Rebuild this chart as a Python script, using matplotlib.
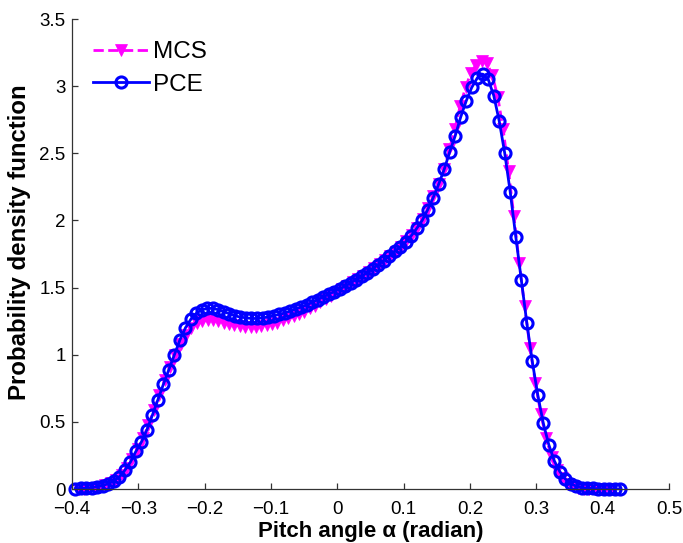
import numpy as np
import matplotlib
matplotlib.use('Agg')
import matplotlib.pyplot as plt
from matplotlib.ticker import FuncFormatter

# PCE: 100 samples on a uniform grid
pce_x = np.linspace(-0.395, 0.4267, 100)
pce_pdf = [
    0.003, 0.005, 0.007, 0.011, 0.017, 0.026, 0.040, 0.060, 0.090, 0.140,
    0.200, 0.280, 0.350, 0.440, 0.550, 0.665, 0.780, 0.890, 1.000, 1.110,
    1.200, 1.265, 1.310, 1.335, 1.345, 1.345, 1.335, 1.320, 1.305, 1.290,
    1.280, 1.275, 1.270, 1.270, 1.275, 1.280, 1.290, 1.300, 1.310, 1.325,
    1.340, 1.355, 1.370, 1.390, 1.410, 1.430, 1.450, 1.470, 1.490, 1.510,
    1.535, 1.560, 1.585, 1.610, 1.640, 1.670, 1.700, 1.735, 1.770, 1.800,
    1.840, 1.885, 1.940, 2.000, 2.080, 2.170, 2.270, 2.380, 2.510, 2.630,
    2.770, 2.890, 2.990, 3.060, 3.090, 3.050, 2.930, 2.740, 2.500, 2.210,
    1.880, 1.560, 1.240, 0.950, 0.700, 0.490, 0.330, 0.210, 0.130, 0.075,
    0.040, 0.020, 0.010, 0.006, 0.004, 0.003, 0.002, 0.001, 0.001, 0.001,
]

# MCS: 100 samples
mcs_x = np.linspace(-0.39, 0.412, 100)
mcs_pdf = [
    0.001, 0.003, 0.006, 0.010, 0.017, 0.028, 0.045, 0.070, 0.105, 0.155,
    0.220, 0.300, 0.380, 0.480, 0.590, 0.700, 0.810, 0.910, 1.000, 1.080,
    1.150, 1.200, 1.235, 1.250, 1.255, 1.255, 1.250, 1.240, 1.230, 1.220,
    1.215, 1.210, 1.210, 1.210, 1.215, 1.220, 1.230, 1.240, 1.255, 1.270,
    1.285, 1.300, 1.320, 1.345, 1.365, 1.390, 1.415, 1.440, 1.465, 1.490,
    1.515, 1.540, 1.565, 1.590, 1.615, 1.645, 1.675, 1.705, 1.735, 1.765,
    1.800, 1.845, 1.890, 1.945, 2.010, 2.090, 2.180, 2.270, 2.380, 2.530,
    2.680, 2.850, 2.990, 3.100, 3.160, 3.190, 3.170, 3.080, 2.920, 2.680,
    2.370, 2.030, 1.680, 1.360, 1.050, 0.790, 0.560, 0.380, 0.240, 0.140,
    0.080, 0.040, 0.020, 0.008, 0.003, 0.001, 0.000, 0.000, 0.000, 0.000,
]

x_ticks = [-0.4, -0.3, -0.2, -0.1, 0, 0.1, 0.2, 0.3, 0.4, 0.5]
y_ticks = [0, 0.5, 1, 1.5, 2, 2.5, 3, 3.5]

plt.rcParams['font.family'] = ['Liberation Sans', 'DejaVu Sans']

fig = plt.figure(figsize=(6.83, 5.43), dpi=100)
ax = fig.add_axes([0.1054, 0.0994, 0.8741, 0.8656])

ax.plot(mcs_x, mcs_pdf, '--', color='#ff00ff', lw=2, marker='v', ms=9,
        mfc='#ff00ff', mec='#ff00ff', mew=0.5, label='MCS', clip_on=False)
ax.plot(pce_x, pce_pdf, '-', color='#0000ff', lw=2, marker='o', ms=8,
        mfc='none', mec='#0000ff', mew=2.2, label='PCE', clip_on=False)

ax.set_xlim(-0.4, 0.5)
ax.set_ylim(0, 3.5)
ax.set_xticks(x_ticks)
ax.set_yticks(y_ticks)
fmt = FuncFormatter(lambda v, p: ('%g' % round(v, 2)).replace('-', '\u2212'))
ax.xaxis.set_major_formatter(fmt)
ax.yaxis.set_major_formatter(fmt)

for side in ['top', 'right']:
    ax.spines[side].set_visible(False)
for side in ['left', 'bottom']:
    ax.spines[side].set_color('#333333')
    ax.spines[side].set_linewidth(0.9)
ax.tick_params(direction='in', length=4, width=0.9, color='#333333',
               labelsize=13.5, labelcolor='black')
ax.tick_params(axis='x', pad=8.5)
ax.tick_params(axis='y', pad=4.5)

ax.set_xlabel('Pitch angle \u03b1 (radian)', fontsize=16, fontweight='bold',
              labelpad=2)
ax.set_ylabel('Probability density function', fontsize=17.3,
              fontweight='bold')
ax.yaxis.set_label_coords(-0.068, 0.525)

ax.legend(loc='upper left', bbox_to_anchor=(0.007, 0.989), frameon=False,
          fontsize=17.5, handlelength=2.3, handletextpad=0.15,
          labelspacing=0.43, borderaxespad=0.3)

fig.savefig('out.png', dpi=100)
